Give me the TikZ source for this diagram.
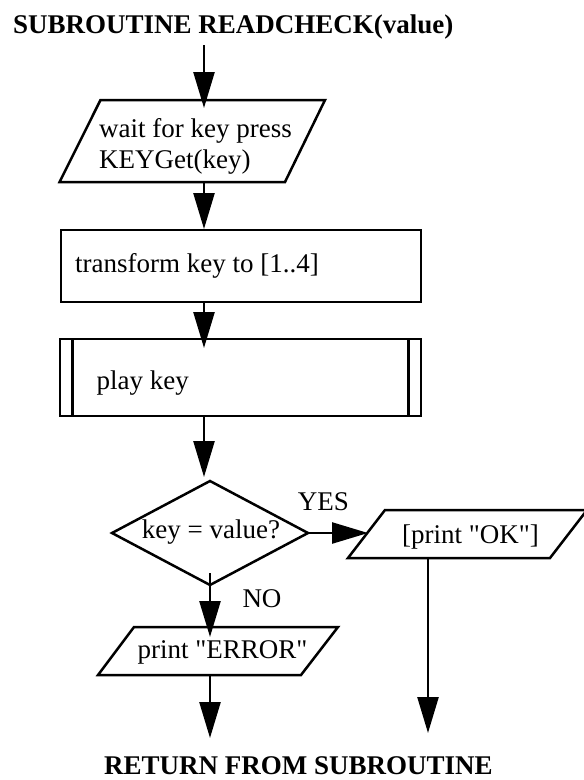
\documentclass[tikz,border=0pt]{standalone}
\usepackage{fontspec}
\setmainfont{Liberation Serif}[Ligatures=TeXOff]
\usetikzlibrary{arrows.meta}
\begin{document}
\begin{tikzpicture}[x=1pt,y=-1pt,
  shapeline/.style={line width=2.5pt,line join=miter},
  arr/.style={line width=2.5pt,-{Triangle[length=36pt,width=21pt]}},
  lbl/.style={inner sep=0pt,font=\fontsize{27pt}{31pt}\selectfont},
  title/.style={inner sep=0pt,font=\fontsize{27pt}{31pt}\selectfont\bfseries}]
\useasboundingbox (0,0) rectangle (584,780);
% title
\node[title,anchor=base west] (ttl) at (13,33) {SUBROUTINE READCHECK(value)};
% input parallelogram
\coordinate (p1a) at (100.5,100); \coordinate (p1b) at (325,100);
\coordinate (p1c) at (285,182);   \coordinate (p1d) at (59.6,182);
\draw[shapeline] (p1a) -- (p1b) -- (p1c) -- (p1d) -- cycle;
\node[lbl,anchor=base west] (t1a) at (99,137) {wait for key press};
\node[lbl,anchor=base west] (t1b) at (99,168) {KEYGet(key)};
% process rectangle
\coordinate (r1a) at (61,230); \coordinate (r1b) at (421,302);
\draw[shapeline] (r1a) rectangle (r1b);
\node[lbl,anchor=base west] (t2) at (75,272) {transform key to [1..4]};
% predefined process
\coordinate (r2a) at (60,339); \coordinate (r2b) at (421,416);
\draw[shapeline] (r2a) rectangle (r2b);
\draw[shapeline] (72.6,339) -- (72.6,416);
\draw[shapeline] (408.6,339) -- (408.6,416);
\node[lbl,anchor=base west] (t3) at (96.5,389) {play key};
% decision diamond
\coordinate (dt) at (210,481); \coordinate (dr) at (308,533);
\coordinate (db) at (210,585); \coordinate (dl) at (112,533);
\draw[shapeline] (dt) -- (dr) -- (db) -- (dl) -- cycle;
\node[lbl,anchor=base] (t4) at (211,538) {key = value?};
% OK parallelogram
\coordinate (oka) at (385,510); \coordinate (okb) at (587,510);
\coordinate (okc) at (550,558); \coordinate (okd) at (348,558);
\draw[shapeline] (oka) -- (okb) -- (okc) -- (okd) -- cycle;
\node[lbl,anchor=base] (t5) at (470.5,543) {[print "OK"]};
% ERROR parallelogram
\coordinate (era) at (134,627); \coordinate (erb) at (338,627);
\coordinate (erc) at (301,675); \coordinate (erd) at (98,675);
\draw[shapeline] (era) -- (erb) -- (erc) -- (erd) -- cycle;
\node[lbl,anchor=base] (t6) at (222.5,658) {print "ERROR"};
% labels
\node[lbl,anchor=base] (yes) at (323.5,510) {YES};
\node[lbl,anchor=base] (no) at (262,607) {NO};
\node[title,anchor=base west] (ret) at (104,774) {RETURN FROM SUBROUTINE};
% connector end points
\coordinate (a1s) at (204,45);  \coordinate (a1e) at (204,108);
\coordinate (a2s) at (204,182); \coordinate (a2e) at (204,229);
\coordinate (a3s) at (204,302); \coordinate (a3e) at (204,348);
\coordinate (a4s) at (204,416); \coordinate (a4e) at (204,477);
\coordinate (a5e) at (368,533);
\coordinate (a6s) at (210,573); \coordinate (a6e) at (210,637);
\coordinate (a7s) at (210,675); \coordinate (a7e) at (210,738);
\coordinate (a8s) at (428,558); \coordinate (a8e) at (428,733);
\draw[arr] (a1s) -- (a1e);
\draw[arr] (a2s) -- (a2e);
\draw[arr] (a3s) -- (a3e);
\draw[arr] (a4s) -- (a4e);
\draw[arr] (dr) -- (a5e);
\draw[arr] (a6s) -- (a6e);
\draw[arr] (a7s) -- (a7e);
\draw[arr] (a8s) -- (a8e);
\end{tikzpicture}
\end{document}
